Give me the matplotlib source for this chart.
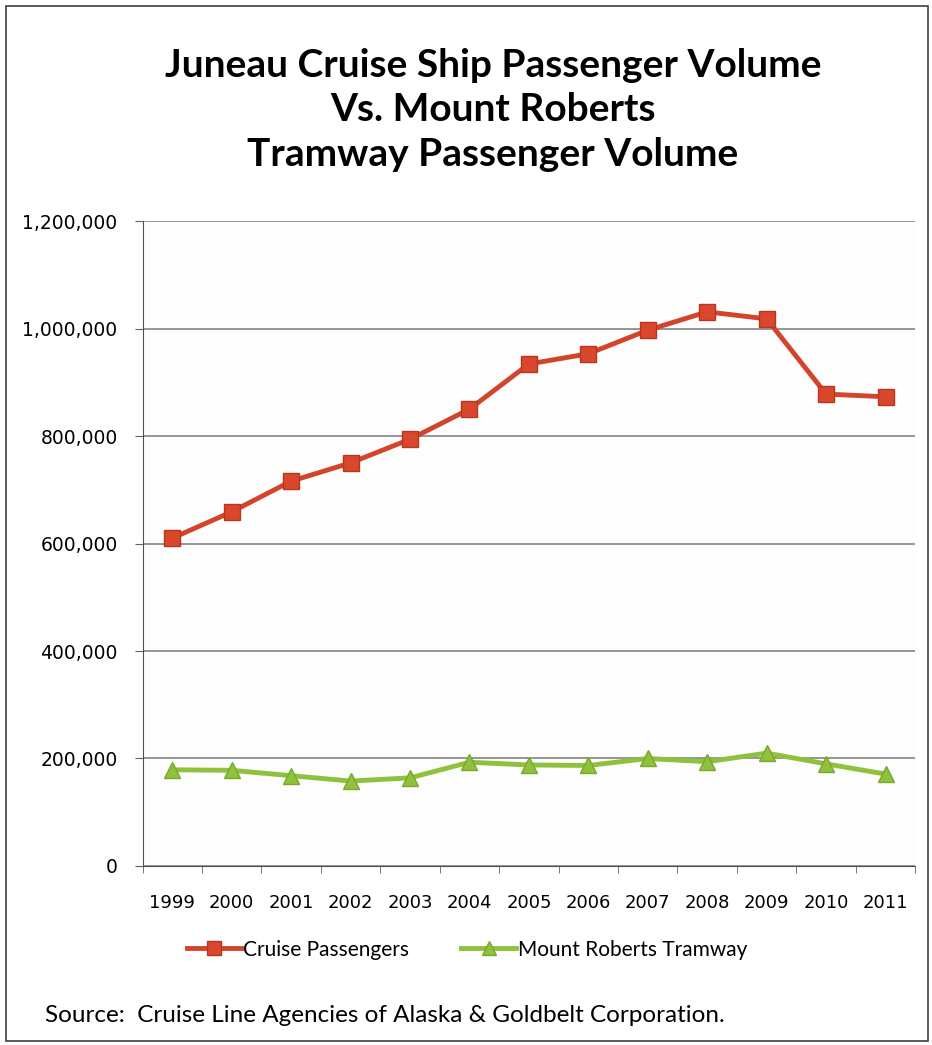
import matplotlib.pyplot as plt
from matplotlib.patches import Rectangle
from matplotlib.ticker import FuncFormatter

years = ['1999', '2000', '2001', '2002', '2003', '2004', '2005',
         '2006', '2007', '2008', '2009', '2010', '2011']
cruise = [610000, 659000, 716000, 750000, 794000, 850000, 934000,
          953000, 997000, 1031000, 1018000, 878000, 873000]
tramway = [179000, 178000, 168000, 158000, 164000, 193000, 188000,
           187000, 200000, 194000, 210000, 190000, 171000]

fig = plt.figure(figsize=(9.32, 10.45), dpi=100)
ax = fig.add_axes([0.153, 0.1713, 0.829, 0.6172])

x = range(len(years))
ax.plot(x, cruise, color='#d2452c', lw=3.5, marker='s', ms=12,
        mfc='#d9482c', mec='#b8361f', label='Cruise Passengers', zorder=3)
ax.plot(x, tramway, color='#8fc23c', lw=3.5, marker='^', ms=12,
        mfc='#8fc23c', mec='#79a82c', label='Mount Roberts Tramway', zorder=3)

ax.set_xlim(-0.5, len(years) - 0.5)
ax.set_ylim(0, 1200000)
ax.set_yticks(range(0, 1200001, 200000))
ax.yaxis.set_major_formatter(FuncFormatter(lambda v, p: f'{int(v):,}'))
ax.set_xticks(list(x))
ax.set_xticklabels(years)
ax.set_xticks([i + 0.5 for i in range(-1, len(years))], minor=True)
ax.tick_params(axis='x', which='major', length=0, pad=20, labelsize=13)
ax.tick_params(axis='x', which='minor', length=5, color='#606060')
ax.tick_params(axis='y', length=6, color='#606060', labelsize=13.5, pad=12)
ax.grid(axis='y', color='#7a7a7a', lw=1.1)
ax.set_axisbelow(True)
ax.set_facecolor('#fdfdfd')
for s in ['top', 'right']:
    ax.spines[s].set_visible(False)
ax.spines['left'].set_color('#505050')
ax.spines['bottom'].set_color('#505050')

fig.text(0.529, 0.895, 'Juneau Cruise Ship Passenger Volume\nVs. Mount Roberts\nTramway Passenger Volume',
         ha='center', va='center', fontsize=28, fontweight='bold', family='Lato',
         linespacing=1.33)

ax.legend(loc='upper center', bbox_to_anchor=(0.42, -0.085), ncol=2, frameon=False,
          prop={'family': 'Lato', 'size': 15}, handlelength=2.6, columnspacing=2.5,
          handletextpad=0.1, markerscale=0.8)

fig.text(0.048, 0.028, 'Source:  Cruise Line Agencies of Alaska & Goldbelt Corporation.',
         ha='left', va='center', fontsize=17.5, family='Lato')

fig.patches.append(Rectangle((0.006, 0.004), 0.99, 0.99, transform=fig.transFigure,
                             fill=False, ec='#404040', lw=1.2))

fig.savefig('out.png', dpi=100)
